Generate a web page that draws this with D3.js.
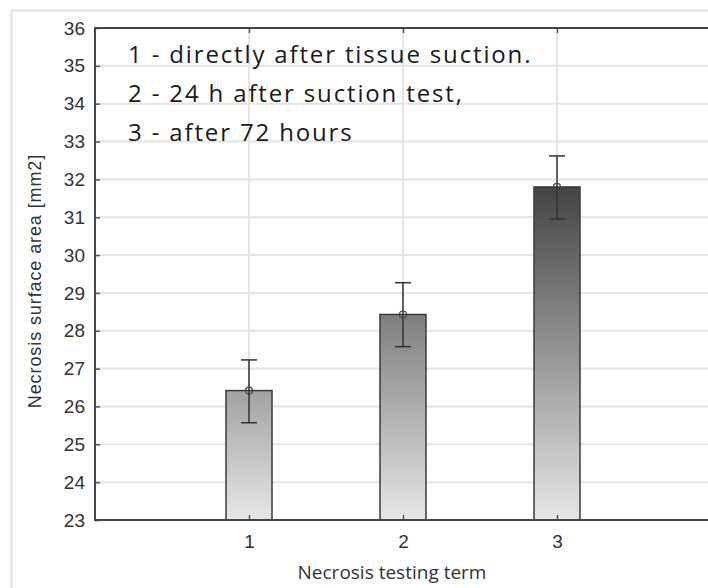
<!DOCTYPE html>
<html>
<head>
  <script src="https://cdnjs.cloudflare.com/ajax/libs/d3/7.0.0/d3.min.js"></script>
  <style>
    body { margin: 0; background: #fff; }
  </style>
</head>
<body>
  <div id="chart"></div>
  <script>
    var terms = [1, 2, 3];
    var means = [26.42, 28.43, 31.80];
    var errLow = [25.57, 27.58, 30.95];
    var errHigh = [27.23, 29.27, 32.62];
    var topColors = ["#a2a2a2", "#7e7e7e", "#444444"];
    var yTicks = [23, 24, 25, 26, 27, 28, 29, 30, 31, 32, 33, 34, 35, 36];
    var noteLines = ["1 - directly after tissue suction.", "2 - 24 h after suction test,", "3 - after 72 hours"];

    var W = 708, H = 588;
    var margin = { top: 28, right: -3, bottom: 68, left: 95 };
    var width = W - margin.left - margin.right;
    var height = H - margin.top - margin.bottom;

    var svg = d3.select("#chart").append("svg")
      .attr("width", W).attr("height", H);

    // outer frame
    svg.append("path")
      .attr("d", "M11.5," + H + "V10.5H" + W)
      .attr("fill", "none").attr("stroke", "#e2e2e2").attr("stroke-width", 2);

    var defs = svg.append("defs");
    topColors.forEach(function(c, i) {
      var g = defs.append("linearGradient").attr("id", "grad" + i)
        .attr("x1", 0).attr("y1", 0).attr("x2", 0).attr("y2", 1);
      g.append("stop").attr("offset", "0%").attr("stop-color", c);
      g.append("stop").attr("offset", "100%").attr("stop-color", "#e6e6e6");
    });

    var g = svg.append("g").attr("transform", "translate(" + margin.left + "," + margin.top + ")");

    var x = d3.scaleLinear().domain([0, 4]).range([0, width]);
    var y = d3.scaleLinear().domain([23, 36]).range([height, 0]);

    // gridlines
    g.append("g").selectAll("line").data(yTicks.slice(1, -1)).enter().append("line")
      .attr("x1", 0).attr("x2", width)
      .attr("y1", d => y(d)).attr("y2", d => y(d))
      .attr("stroke", "#e4e4e4").attr("stroke-width", 2);
    g.append("g").selectAll("line").data(terms).enter().append("line")
      .attr("x1", d => x(d)).attr("x2", d => x(d))
      .attr("y1", 0).attr("y2", height)
      .attr("stroke", "#e4e4e4").attr("stroke-width", 2);

    // bars
    var bw = 46;
    g.selectAll("rect.bar").data(terms).enter().append("rect")
      .attr("class", "bar")
      .attr("x", d => x(d) - bw / 2)
      .attr("y", (d, i) => y(means[i]))
      .attr("width", bw)
      .attr("height", (d, i) => height - y(means[i]))
      .attr("fill", (d, i) => "url(#grad" + i + ")")
      .attr("stroke", "#3a3a3a").attr("stroke-width", 1.5);

    // error bars
    var eb = g.selectAll("g.err").data(terms).enter().append("g").attr("class", "err");
    eb.append("line")
      .attr("x1", d => x(d)).attr("x2", d => x(d))
      .attr("y1", (d, i) => y(errLow[i])).attr("y2", (d, i) => y(errHigh[i]))
      .attr("stroke", "#333").attr("stroke-width", 1.5);
    eb.append("line")
      .attr("x1", d => x(d) - 8).attr("x2", d => x(d) + 8)
      .attr("y1", (d, i) => y(errLow[i])).attr("y2", (d, i) => y(errLow[i]))
      .attr("stroke", "#333").attr("stroke-width", 1.5);
    eb.append("line")
      .attr("x1", d => x(d) - 8).attr("x2", d => x(d) + 8)
      .attr("y1", (d, i) => y(errHigh[i])).attr("y2", (d, i) => y(errHigh[i]))
      .attr("stroke", "#333").attr("stroke-width", 1.5);
    eb.append("circle")
      .attr("cx", d => x(d)).attr("cy", (d, i) => y(means[i]))
      .attr("r", 3.5).attr("fill", "none")
      .attr("stroke", "#444").attr("stroke-width", 1.2);

    // axes
    var yAxis = g.append("g")
      .call(d3.axisLeft(y).tickValues(yTicks).tickSize(-5).tickPadding(10).tickFormat(d3.format("d")));
    yAxis.select(".domain").remove();
    yAxis.selectAll(".tick line").attr("stroke", "#555").attr("stroke-width", 1.5);
    yAxis.selectAll("text")
      .attr("font-family", "Liberation Sans, Arial, sans-serif")
      .attr("font-size", 19).attr("fill", "#333");

    var xAxis = g.append("g").attr("transform", "translate(0," + height + ")")
      .call(d3.axisBottom(x).tickValues(terms).tickSize(-5).tickPadding(15).tickFormat(d3.format("d")));
    xAxis.select(".domain").remove();
    xAxis.selectAll(".tick line").attr("stroke", "#555").attr("stroke-width", 1.5);
    xAxis.selectAll("text")
      .attr("font-family", "Liberation Sans, Arial, sans-serif")
      .attr("font-size", 19).attr("fill", "#333");

    var xTop = g.append("g")
      .call(d3.axisTop(x).tickValues(terms).tickSize(-5).tickFormat(""));
    xTop.select(".domain").remove();
    xTop.selectAll(".tick line").attr("stroke", "#555").attr("stroke-width", 1.5);

    // plot frame
    g.append("path")
      .attr("d", "M" + width + ",0H0V" + height + "H" + width)
      .attr("fill", "none").attr("stroke", "#444").attr("stroke-width", 2);

    // annotation
    g.append("g").selectAll("text").data(noteLines).enter().append("text")
      .attr("x", 33).attr("y", (d, i) => 35 + i * 39)
      .attr("font-family", "Open Sans, sans-serif")
      .attr("font-size", 24).attr("letter-spacing", 1.85).attr("fill", "#1a1a1a")
      .text(d => d);

    // axis titles
    svg.append("text")
      .attr("x", 392).attr("y", 579)
      .attr("text-anchor", "middle")
      .attr("font-family", "Open Sans, sans-serif")
      .attr("font-size", 19).attr("fill", "#333")
      .text("Necrosis testing term");

    svg.append("text")
      .attr("transform", "translate(41,281) rotate(-90)")
      .attr("text-anchor", "middle")
      .attr("font-family", "Liberation Sans, Arial, sans-serif")
      .attr("font-size", 18).attr("letter-spacing", 0.9).attr("fill", "#333")
      .text("Necrosis surface area [mm2]");
  </script>
</body>
</html>
